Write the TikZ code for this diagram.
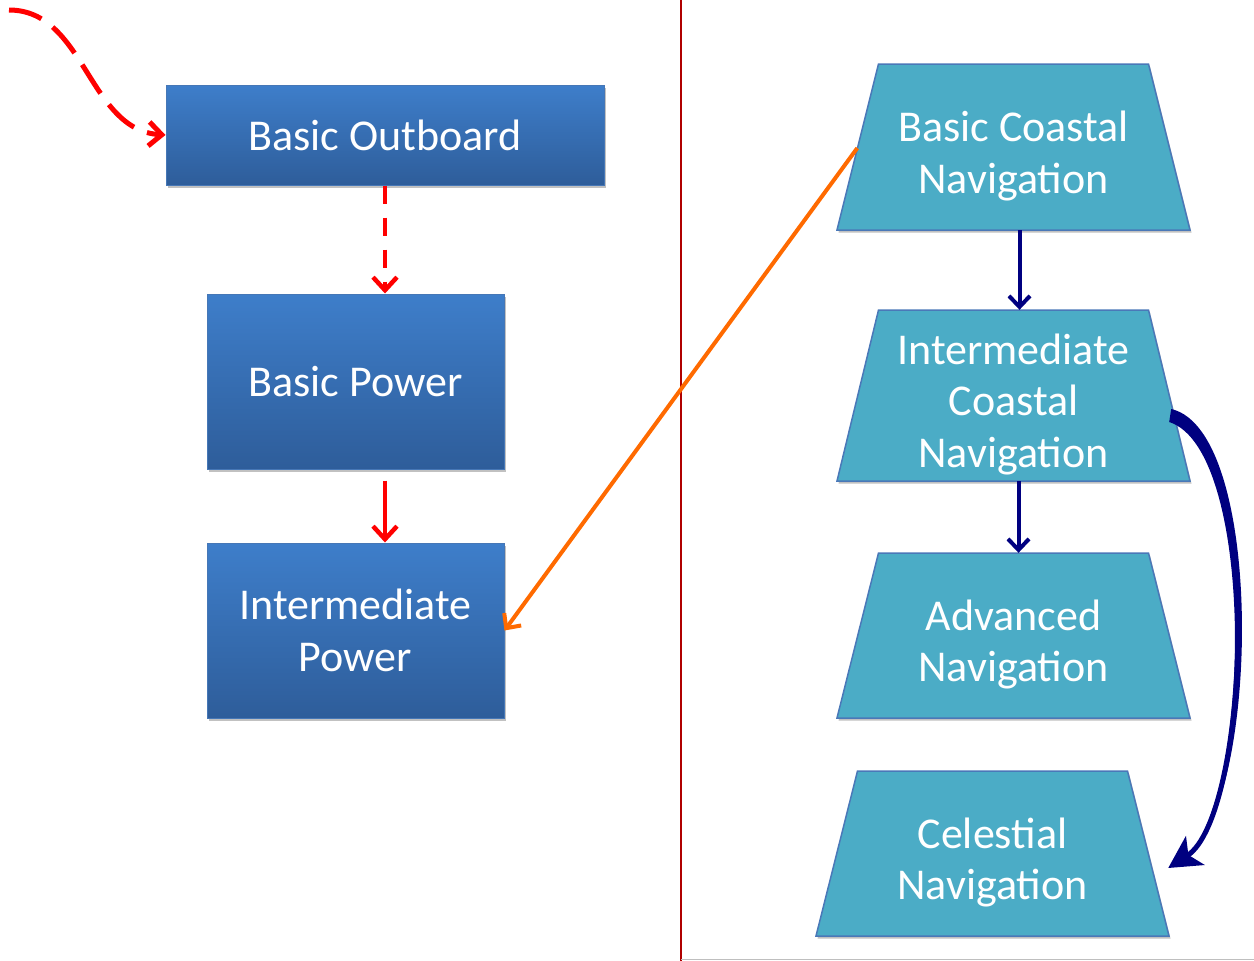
\documentclass[tikz,border=0pt]{standalone}
\usepackage{fontspec}
\setmainfont{Carlito}
\usetikzlibrary{arrows.meta,shadows,calc}
\definecolor{bluetop}{HTML}{3E7ECA}
\definecolor{bluebot}{HTML}{2E5D9A}
\definecolor{blueedge}{HTML}{4677B6}
\definecolor{tealfill}{HTML}{4BACC6}
\definecolor{tealedge}{HTML}{4A78B8}
\definecolor{sepred}{HTML}{B00000}
\definecolor{orangeln}{HTML}{FF6A00}
\definecolor{navyln}{HTML}{000080}
\newcommand{\bigfont}{\fontsize{44}{51.5}\selectfont}
\tikzset{
  shad/.style={drop shadow={shadow xshift=1.5pt,shadow yshift=-2.5pt,opacity=0.35,fill=black!70}},
  bluebox/.style={rectangle,draw=blueedge,line width=1pt,top color=bluetop,bottom color=bluebot,
    text=white,font=\bigfont,align=center,inner sep=0pt,shad},
  trapshape/.style={draw=tealedge,line width=1.5pt,fill=tealfill,shad},
  trapframe/.style={rectangle,inner sep=0pt,minimum width=353pt},
  traptext/.style={text=white,font=\bigfont,align=center,inner sep=0pt},
  redarr/.style={draw=red,line width=4.5pt,-{Straight Barb[length=13pt,width=24pt]}},
  reddash/.style={redarr,dash pattern=on 18pt off 14pt},
  redcurve/.style={redarr,line width=5pt,dash pattern=on 34pt off 14pt},
  orangearr/.style={draw=orangeln,line width=4pt,-{Straight Barb[length=11pt,width=21pt]}},
  navyarr/.style={draw=navyln,line width=4pt,-{Straight Barb[length=11pt,width=21pt]}},
  navythick/.style={draw=navyln,line width=5pt,-{Stealth[length=32pt,width=34pt,inset=8pt,fill=navyln]}},
}
% name, cx, cy, height, text
\newcommand{\trapz}[5]{%
  \path[trapshape] (#2-176.5,#3+#4/2) -- (#2+176.5,#3+#4/2) -- (#2+135,#3-#4/2) -- (#2-135,#3-#4/2) -- cycle;
  \node[trapframe,minimum height=#4] (#1) at (#2,#3) {};
  \node[traptext] (#1t) at (#2,#3+9) {#5};
}
\begin{document}
\begin{tikzpicture}[x=1pt,y=-1pt]
\useasboundingbox (0,0) rectangle (1254,961);
% separator and bottom rule
\draw[sepred,line width=2pt] (681,0) -- (681,961);
\draw[black!25,line width=1.5pt] (681,959.5) -- (1254,959.5);
% left column
\node[bluebox,minimum width=438pt,minimum height=100pt] (ob) at (385,135) {Basic Outboard};
\node[bluebox,minimum width=297pt,minimum height=175pt] (bp) at (355.5,381.5) {Basic Power};
\node[bluebox,minimum width=297pt,minimum height=175pt] (ip) at (355.5,630.5) {Intermediate\\Power};
% right column
\trapz{bcn}{1013.5}{147}{166}{Basic Coastal\\Navigation}
\trapz{icn}{1013.5}{395.5}{171}{Intermediate\\Coastal\\Navigation}
\trapz{adv}{1013.5}{635.5}{165}{Advanced\\Navigation}
\trapz{cel}{992.5}{853.5}{165}{Celestial\\Navigation}
% connectors
\coordinate (start) at (9,10);
\draw[redcurve] (start) .. controls (85,10) and (88,130) .. (ob.west);
\draw[reddash] (ob.south) -- (ob.south |- bp.north);
\draw[redarr,shorten <=11pt] (ob.south |- bp.south) -- (ob.south |- ip.north);
\draw[orangearr] ($(bcn.west)+(20.5,1)$) -- (ip.east);
\draw[navyarr] ([xshift=6pt]bcn.south) -- ([xshift=6pt]bcn.south |- icn.north);
\draw[navyarr] ([xshift=5pt]icn.south) -- ([xshift=5pt]icn.south |- adv.north);
% curved thick arrow: tapered body plus tip
\coordinate (cs) at ($(icn.east)+(-18,20.5)$);
\coordinate (ce) at ($(cel.east)+(-1,14.5)$);
\fill[navyln] ($(cs)+(-1,-7)$) .. controls +(96,22) and +(78,-47) .. ($(ce)+(14,-7)$)
  .. controls +(70,-52) and +(88,28) .. ($(cs)+(-3,6)$) -- cycle;
\draw[navythick] (cs) .. controls +(92,24) and +(82,-53) .. (ce);
\end{tikzpicture}
\end{document}
